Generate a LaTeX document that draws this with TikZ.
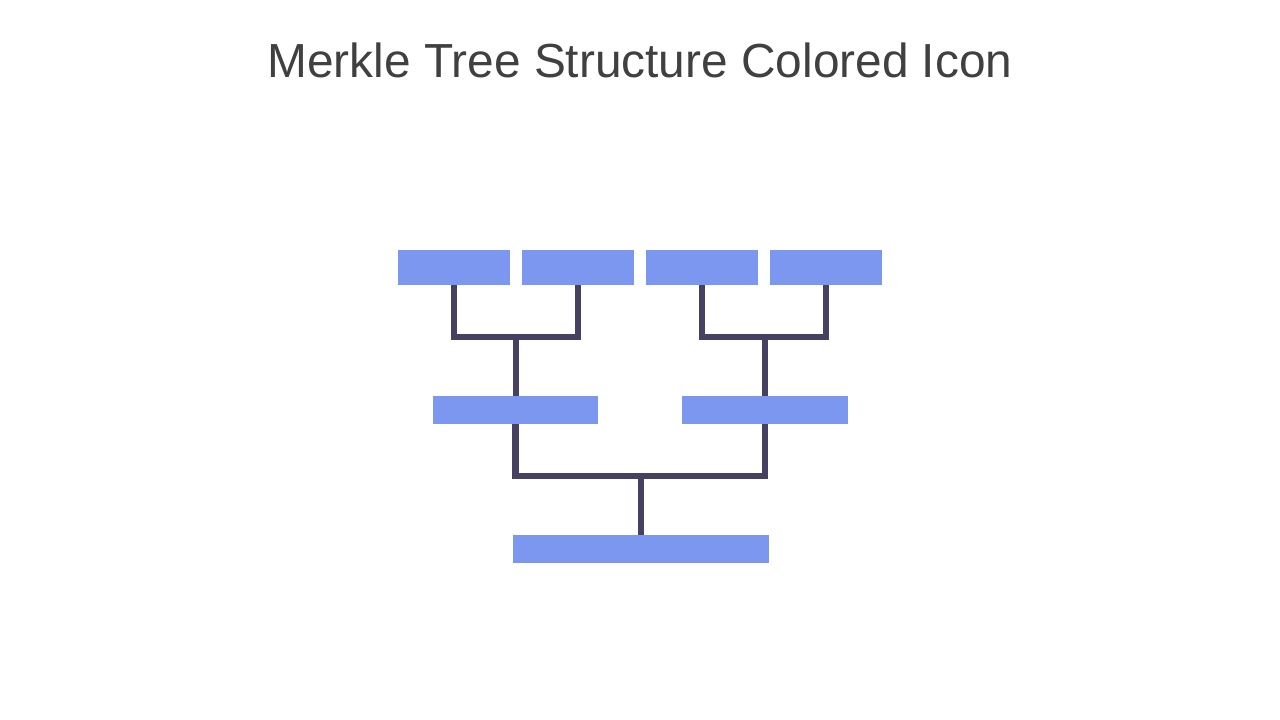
\documentclass[tikz,border=0pt]{standalone}
\usepackage{fontspec}
\setmainfont{Liberation Sans}
\usetikzlibrary{positioning}
\definecolor{hashblue}{HTML}{7B97EF}
\definecolor{linkdark}{HTML}{464160}
\definecolor{titlegray}{HTML}{404040}

\begin{document}
\begin{tikzpicture}[x=0.025cm, y=-0.025cm]
  % Styles
  \tikzset{
    leaf/.style={rectangle, fill=hashblue, inner sep=0pt, minimum width=2.8cm, minimum height=0.875cm},
    branch/.style={rectangle, fill=hashblue, inner sep=0pt, minimum width=4.125cm, minimum height=0.7cm},
    root/.style={rectangle, fill=hashblue, inner sep=0pt, minimum width=6.4cm, minimum height=0.7cm},
    link/.style={draw=linkdark, line width=4.3pt},
    heading/.style={text=titlegray, font=\fontsize{34}{40}\selectfont, anchor=base},
  }
  \useasboundingbox (0,0) rectangle (1280,720);

  % Title
  \node[heading] (title) at (640,78) {Merkle Tree Structure Colored Icon};

  % Row 1: leaf hashes
  \node[leaf] (l1) at (454,267.5) {};
  \node[leaf] (l2) at (578,267.5) {};
  \node[leaf] (l3) at (702,267.5) {};
  \node[leaf] (l4) at (826,267.5) {};

  % Row 2: branch hashes
  \node[branch] (b12) at (515.5,410) {};
  \node[branch] (b34) at (765,410) {};

  % Row 3: root hash
  \node[root] (top) at (641,549) {};

  % Junctions
  \coordinate (j12) at (516,337);
  \coordinate (j34) at (765,337);
  \coordinate (jtop) at (641,476);

  % Edges
  \draw[link] (l1.south) |- (j12) -| (l2.south);
  \draw[link] (j12) -- (j12 |- b12.north);
  \draw[link] (l3.south) |- (j34) -| (l4.south);
  \draw[link] (j34) -- (j34 |- b34.north);
  \draw[link] (b12.south) |- (jtop) -| (b34.south);
  \draw[link] (jtop) -- (jtop |- top.north);
\end{tikzpicture}
\end{document}
